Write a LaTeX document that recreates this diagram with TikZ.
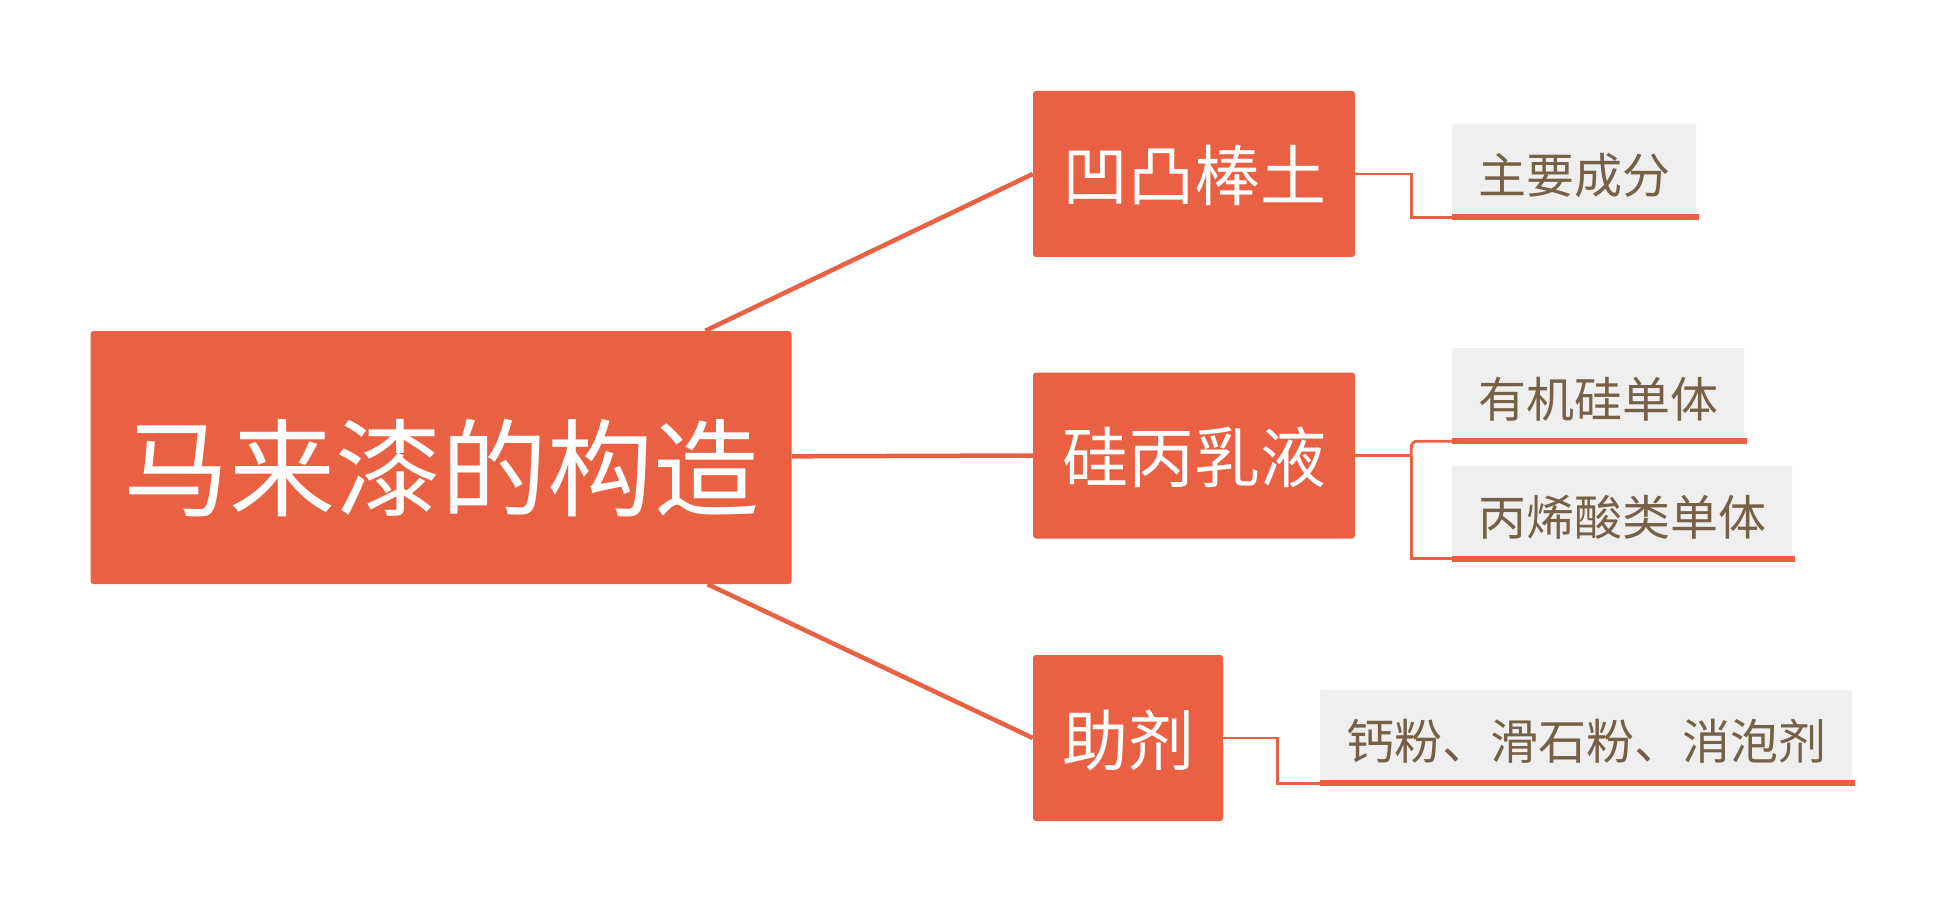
\documentclass[tikz,border=0pt]{standalone}
\usepackage{fontspec}
\setmainfont{Noto Sans CJK SC}
\definecolor{maple}{RGB}{233,96,67}
\definecolor{leafgray}{RGB}{239,239,239}
\definecolor{leafbrown}{RGB}{117,96,72}
\begin{document}
\begin{tikzpicture}[x=1pt, y=-1pt,
  rootbox/.style={fill=maple, text=white, rounded corners=3pt, minimum width=701pt, minimum height=253pt, text height=114pt, text depth=12pt, font=\fontsize{106}{110}\selectfont},
  partbox/.style={fill=maple, text=white, rounded corners=3pt, inner xsep=29pt, minimum height=166pt, text height=62pt, text depth=8pt, font=\fontsize{66}{70}\selectfont},
  itembox/.style={fill=leafgray, text=leafbrown, rounded corners=2pt, inner xsep=26pt, minimum height=93pt, text height=52pt, text depth=6pt, anchor=west, font=\fontsize{48}{52}\selectfont},
  branch/.style={draw=maple, line width=4.5pt},
  twig/.style={draw=maple, line width=2.8pt},
  underline/.style={draw=maple, line width=6pt}]
  \useasboundingbox (0,0) rectangle (1944,912);
  \node[rootbox] (root) at (441,457.5) {马来漆的构造};
  \node[partbox] (clay) at (1194,174) {凹凸棒土};
  \node[partbox] (emulsion) at (1194,455.5) {硅丙乳液};
  \node[partbox] (additive) at (1128,738) {助剂};
  \node[itembox] (main) at (1452,170.5) {主要成分};
  \node[itembox] (silicone) at (1452,394.5) {有机硅单体};
  \node[itembox] (acrylic) at (1452,512) {丙烯酸类单体};
  \node[itembox] (powder) at (1320,736.5) {钙粉、滑石粉、消泡剂};
  \draw[branch] (root) -- (clay.west);
  \draw[branch] (root) -- (emulsion.west);
  \draw[branch] (root) -- (additive.west);
  \coordinate (fork) at ([xshift=56pt]emulsion.east);
  \draw[twig] (clay.east) -- ++(56,0) |- (main.south west);
  \draw[twig] (emulsion.east) -- (fork);
  \draw[twig, rounded corners=6pt] (silicone.south west) -| (fork);
  \draw[twig] (fork) |- (acrylic.south west);
  \draw[twig] (additive.east) -- ++(54,0) |- (powder.south west);
  \foreach \leaf in {main, silicone, acrylic, powder}
    \draw[underline] (\leaf.south west) -- ([xshift=3pt]\leaf.south east);
\end{tikzpicture}
\end{document}
